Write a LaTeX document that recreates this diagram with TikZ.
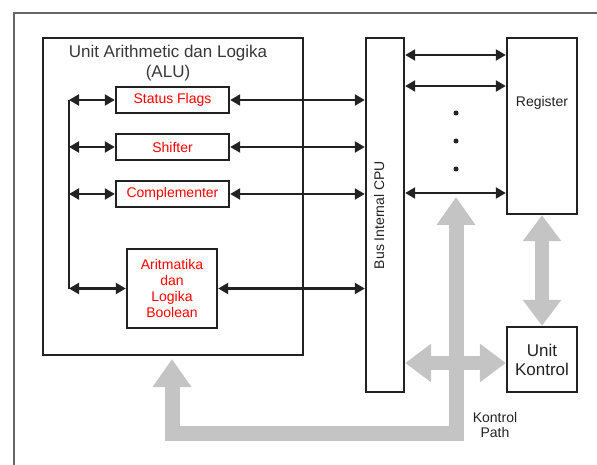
\documentclass[tikz,border=0pt]{standalone}
\usepackage{fontspec}
\setmainfont{Liberation Sans}
\usetikzlibrary{arrows.meta, positioning}

\definecolor{pathgray}{HTML}{C4C4C4}
\definecolor{edge}{HTML}{222222}

\begin{document}
\begin{tikzpicture}[
    x=1pt, y=-1pt,
    box/.style={rectangle, draw=edge, line width=2.4pt, inner sep=0pt, text centered},
    unit/.style={box, font=\fontsize{14}{16}\selectfont, text=red},
    lbl/.style={font=\fontsize{14}{16}\selectfont, text=edge},
    arr/.style={{Triangle[length=10pt,width=11pt]}-{Triangle[length=10pt,width=11pt]}, line width=2.2pt, edge},
    fat/.style={draw=pathgray, line width=14pt,
                {Triangle[length=26pt,width=37pt]}-{Triangle[length=26pt,width=37pt]}},
    fatup/.style={draw=pathgray, line width=15pt,
                  -{Triangle[length=28pt,width=37pt]}},
    dot/.style={circle, fill=edge, inner sep=0pt, minimum size=5pt},
]
\path[use as bounding box] (0,0) rectangle (597,465);

% Frame
\draw[line width=1.8pt, black!60] (14,465) -- (14,13) -- (597,13);

% ALU
\node[box, line width=2.8pt, minimum width=260pt, minimum height=317pt] (alu) at (173,196.5) {};
\node[align=center, font=\fontsize{17}{20}\selectfont, text=edge!90] (alutitle) at (168,63)
    {Unit Arithmetic dan Logika\\(ALU)};

\node[unit, minimum width=113pt, minimum height=26pt] (sf) at (172.5,100) {Status Flags};
\node[unit, minimum width=113pt, minimum height=26pt] (sh) at (172.5,147) {Shifter};
\node[unit, minimum width=113pt, minimum height=26pt] (cm) at (172.5,194) {Complementer};
\node[unit, minimum width=90pt, minimum height=79pt, align=center] (al) at (172,288.5)
    {Aritmatika\\dan\\Logika\\Boolean};

% Bus, Register, Unit Kontrol
\node[box, minimum width=38pt, minimum height=354pt] (bus) at (385,215) {};
\node[lbl, rotate=90] (buslbl) at (bus.center) [yshift=6pt] {Bus Internal CPU};
\node[box, minimum width=70pt, minimum height=176pt] (reg) at (542,126) {};
\node[lbl, below=56pt of reg.north] (reglbl) {Register};
\node[box, minimum width=70pt, minimum height=65pt, align=center,
      font=\fontsize{17}{19}\selectfont, text=edge] (uk) at (542,359.5) {Unit\\Kontrol};

% Spine inside the ALU
\coordinate (spine) at (69,0);
\draw[line width=2.4pt, edge] (sf.west -| spine) -- (al.west -| spine);
\draw[arr] (sf.west -| spine) -- (sf.west);
\draw[arr] (sh.west -| spine) -- (sh.west);
\draw[arr] (cm.west -| spine) -- (cm.west);
\draw[arr] (al.west -| spine) -- (al.west);

% Units to bus
\draw[arr] (sf.east) -- (sf.east -| bus.west);
\draw[arr] (sh.east) -- (sh.east -| bus.west);
\draw[arr] (cm.east) -- (cm.east -| bus.west);
\draw[arr] (al.east) -- (al.east -| bus.west);

% Bus to register
\coordinate (rowA) at (0,55);
\coordinate (rowB) at (0,86);
\coordinate (rowN) at (0,193);
\draw[arr] (bus.east |- rowA) -- (reg.west |- rowA);
\draw[arr] (bus.east |- rowB) -- (reg.west |- rowB);
\draw[arr] (bus.east |- rowN) -- (reg.west |- rowN);
\node[dot] (d1) at (456,113) {};
\node[dot] (d2) at (456,141) {};
\node[dot] (d3) at (456,169) {};

% Control paths
\coordinate (tapbus) at (456,197);
\coordinate (bend) at (456,433);
\coordinate (tapalu) at (172,359);
\draw[fatup] (tapalu |- bend) -- (bend) -- (tapbus);
\draw[fatup] (bend) -- (tapalu |- bend) -- (tapalu);
\coordinate (rowK) at (0,363);
\draw[fat] (bus.east |- rowK) -- (uk.west |- rowK);
\draw[fat] (reg.south) -- (uk.north);
\node[lbl, align=center, font=\fontsize{14}{15}\selectfont] (kp) at (495,425) {Kontrol\\Path};

\end{tikzpicture}
\end{document}
